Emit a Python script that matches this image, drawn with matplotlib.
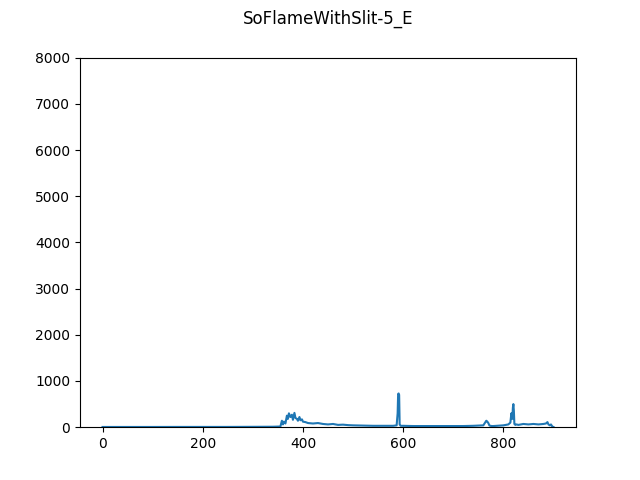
import numpy as np
import matplotlib.pyplot as plt

# wavelength index / intensity
x = [0, 50, 100, 150, 200, 250, 300, 340, 355, 358, 360, 362, 365, 368, 370, 372, 375,
     378, 380, 383, 385, 388, 390, 393, 395, 398, 400, 405, 410, 420, 430, 440, 450,
     460, 470, 480, 490, 500, 520, 540, 560, 580, 587, 589, 590, 591, 592, 593, 595,
     600, 620, 640, 660, 680, 700, 720, 740, 760, 766, 768, 770, 772, 774, 777, 780,
     800, 810, 814, 816, 818, 819, 820, 821, 822, 824, 826, 830, 840, 850, 860, 870,
     880, 885, 888, 890, 893, 895, 898, 900]
y = [5, 5, 5, 6, 6, 6, 8, 10, 15, 140, 60, 120, 80, 250, 180, 300, 220,
     270, 160, 310, 200, 180, 140, 220, 150, 170, 120, 110, 90, 80, 90, 70, 60,
     70, 50, 55, 45, 40, 35, 30, 30, 30, 40, 300, 720, 730, 700, 60, 30,
     30, 25, 25, 25, 25, 25, 25, 30, 40, 140, 120, 90, 40, 30, 25, 25,
     40, 60, 100, 300, 180, 420, 500, 350, 70, 50, 60, 50, 70, 60, 70, 60,
     70, 80, 110, 60, 40, 60, 10, 5]

fig, ax = plt.subplots(figsize=(6.4, 4.8), dpi=100)
ax.plot(x, y, color='#1f77b4')
ax.set_ylim(0, 8000)
ax.set_xlim(-45, 945)
fig.suptitle('SoFlameWithSlit-5_E', x=0.5125)
fig.savefig('out.png')
